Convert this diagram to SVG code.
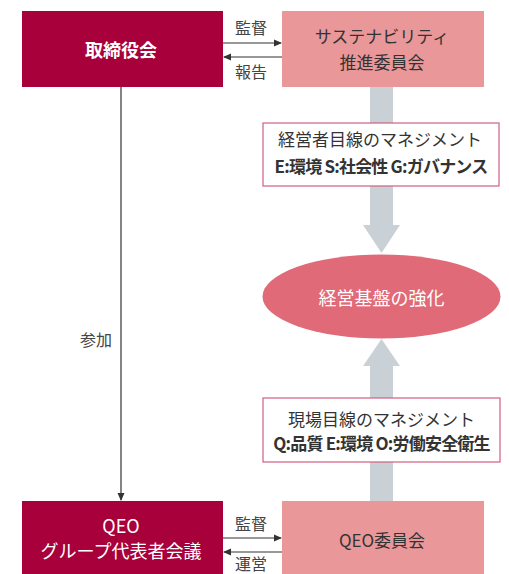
<svg xmlns="http://www.w3.org/2000/svg" width="509" height="574" viewBox="0 0 509 574">
<style>
text{font-family:"Noto Sans CJK JP","Noto Sans",sans-serif;text-anchor:middle}
.dark{fill:#a8003a}
.pink{fill:#ea979a}
.wt{fill:#fff;font-size:18px}
.bt{fill:#333;font-size:17px}
.lbl{fill:#444;font-size:16px}
.tb{fill:#fff;stroke:#d0607e;stroke-width:1.2}
.ln{stroke:#333;stroke-width:1.2;fill:none}
.bar{fill:#c9d1d7}
</style>
<defs>
<marker id="ah" markerWidth="8" markerHeight="8" refX="7" refY="4" orient="auto" markerUnits="userSpaceOnUse">
<path d="M0,0.5 L8,4 L0,7.5 Z" fill="#333"/>
</marker>
</defs>
<g id="connectors">
<path class="bar" d="M370,87 H393 V225 H400 L381.5,253 L363,225 H370 Z"/>
<path class="bar" d="M370,501 H393 V366 H400 L381.5,339 L363,366 H370 Z"/>
<line class="ln" x1="223" y1="43" x2="281" y2="43" marker-end="url(#ah)"/>
<line class="ln" x1="282" y1="57" x2="224" y2="57" marker-end="url(#ah)"/>
<text class="lbl" x="251" y="34">監督</text>
<text class="lbl" x="251" y="78">報告</text>
<line class="ln" x1="121" y1="87" x2="121" y2="500" marker-end="url(#ah)"/>
<text class="lbl" x="96" y="346">参加</text>
<line class="ln" x1="223" y1="538" x2="281" y2="538" marker-end="url(#ah)"/>
<line class="ln" x1="282" y1="552" x2="224" y2="552" marker-end="url(#ah)"/>
<text class="lbl" x="251" y="530">監督</text>
<text class="lbl" x="251" y="570">運営</text>
</g>
<g id="board">
<rect class="dark" x="22" y="11" width="201" height="76"/>
<text class="wt" x="121" y="57" font-size="19.5" font-weight="bold">取締役会</text>
</g>
<g id="sustainability">
<rect class="pink" x="282" y="11" width="202" height="76"/>
<text class="bt" x="382" y="43">サステナビリティ</text>
<text class="bt" x="382" y="69">推進委員会</text>
</g>
<g id="box-esg">
<rect class="tb" x="263" y="123" width="236" height="63"/>
<text class="bt" x="380" y="146" font-size="16.5">経営者目線のマネジメント</text>
<text class="bt" x="381" y="173" font-size="16.5" font-weight="bold" letter-spacing="-0.8">E:環境 S:社会性 G:ガバナンス</text>
</g>
<g id="core">
<ellipse cx="381.5" cy="296.5" rx="119" ry="42" fill="#e06a78"/>
<text class="wt" x="381.5" y="305" font-size="20.5">経営基盤の強化</text>
</g>
<g id="box-qeo">
<rect class="tb" x="263" y="398" width="237" height="64"/>
<text class="bt" x="381.5" y="426" font-size="16.5">現場目線のマネジメント</text>
<text class="bt" x="381.5" y="450" font-size="16.5" font-weight="bold" letter-spacing="-0.8">Q:品質 E:環境 O:労働安全衛生</text>
</g>
<g id="qeo-group">
<rect class="dark" x="22" y="501" width="201" height="73"/>
<text class="wt" x="121" y="533">QEO</text>
<text class="wt" x="121" y="558">グループ代表者会議</text>
</g>
<g id="qeo-committee">
<rect class="pink" x="282" y="501" width="202" height="73"/>
<text class="bt" x="382" y="547" font-size="18">QEO委員会</text>
</g>
</svg>
